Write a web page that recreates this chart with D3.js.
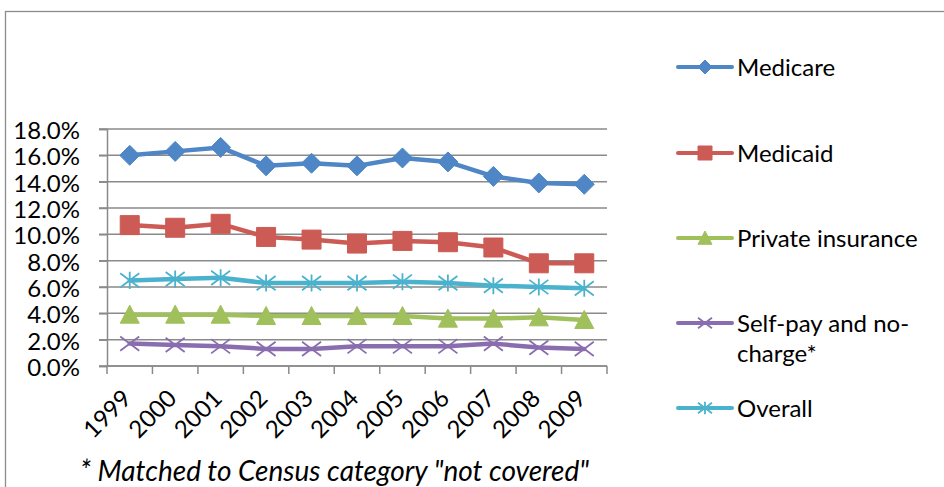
<!DOCTYPE html>
<html><head><meta charset="utf-8">
<script src="https://cdn.jsdelivr.net/npm/d3@7"></script>
<style>body{margin:0;background:#fff;} svg{display:block;font-family:Lato,"Open Sans",sans-serif;}</style>
</head><body><svg id="c" width="944" height="487"></svg>
<script>
const years = ["1999","2000","2001","2002","2003","2004","2005","2006","2007","2008","2009"];
const medicare = [16.0,16.3,16.6,15.2,15.4,15.2,15.8,15.5,14.4,13.9,13.8];
const medicaid = [10.7,10.5,10.8,9.8,9.6,9.3,9.5,9.4,9.0,7.8,7.8];
const privateIns = [3.9,3.9,3.9,3.8,3.8,3.8,3.8,3.6,3.6,3.7,3.5];
const selfPay = [1.7,1.6,1.5,1.3,1.3,1.5,1.5,1.5,1.7,1.4,1.3];
const overall = [6.5,6.6,6.7,6.3,6.3,6.3,6.4,6.3,6.1,6.0,5.9];
const yTicks = [0,2,4,6,8,10,12,14,16,18];
const seriesNames = ["Medicare","Medicaid","Private insurance","Self-pay and no-charge*","Overall"];
const footnote = '* Matched to Census category "not covered"';

const series = [
  {name:seriesNames[0], values:medicare, color:"#4F86C6", marker:"diamond"},
  {name:seriesNames[1], values:medicaid, color:"#CC5B55", marker:"square"},
  {name:seriesNames[2], values:privateIns, color:"#9FC05B", marker:"triangle"},
  {name:seriesNames[3], values:selfPay, color:"#8A6DAE", marker:"x"},
  {name:seriesNames[4], values:overall, color:"#4BB2CE", marker:"star"}
];

const svg = d3.select("#c");
const gridColor = "#8a8a8a";

// chart border
svg.append("rect").attr("x",5.5).attr("y",11.5).attr("width",1000).attr("height",600)
  .attr("fill","none").attr("stroke","#8c8c8c").attr("stroke-width",1.3);

const x = d3.scaleBand().domain(years).range([107,607]).padding(0);
const y = d3.scaleLinear().domain([0,18]).range([366,129]);

// gridlines
svg.append("g").selectAll("line").data(yTicks).join("line")
  .attr("x1",99).attr("x2",607).attr("y1",d=>y(d)).attr("y2",d=>y(d))
  .attr("stroke",gridColor).attr("stroke-width",1.5);

// y axis
const yAxis = svg.append("g").attr("transform","translate(107,0)")
  .call(d3.axisLeft(y).tickValues(yTicks).tickSize(8).tickPadding(19).tickFormat(d=>d.toFixed(1)+"%"));
yAxis.select(".domain").attr("stroke",gridColor).attr("stroke-width",1.5);
yAxis.selectAll(".tick line").attr("stroke",gridColor).attr("stroke-width",1.5);
yAxis.selectAll("text").attr("font-family","Lato").attr("font-size",24).attr("fill","#000").attr("dy","0.4em");

// x axis
const xAxisG = svg.append("g").attr("transform","translate(0,366)");
xAxisG.append("line").attr("x1",107).attr("x2",607).attr("stroke",gridColor).attr("stroke-width",1.5);
const bounds = years.map(d=>x(d)).concat([x.range()[1]]);
xAxisG.selectAll("line.tk").data(bounds).join("line").attr("class","tk")
  .attr("x1",d=>d).attr("x2",d=>d).attr("y1",0).attr("y2",8)
  .attr("stroke",gridColor).attr("stroke-width",1.5);
xAxisG.selectAll("text").data(years).join("text")
  .attr("transform",d=>`translate(${x(d)+x.bandwidth()/2+3},${34}) rotate(-45)`)
  .attr("text-anchor","end").attr("font-size",24).attr("fill","#000").text(d=>d);

function markerPath(type, s){
  const h=s/2;
  if(type==="diamond") return `M0,${-h}L${h},0L0,${h}L${-h},0Z`;
  if(type==="square") return `M${-h},${-h}H${h}V${h}H${-h}Z`;
  if(type==="triangle") return `M0,${-h}L${h},${h*0.9}L${-h},${h*0.9}Z`;
  if(type==="x") return `M${-h},${-h*0.75}L${h},${h*0.75}M${-h},${h*0.75}L${h},${-h*0.75}`;
  if(type==="star") return `M${-h},${-h*0.75}L${h},${h*0.75}M${-h},${h*0.75}L${h},${-h*0.75}M0,${-h*0.9}V${h*0.9}`;
}
function drawMarker(g, type, color, size){
  const filled = !(type==="x"||type==="star");
  g.append("path").attr("d",markerPath(type,size))
    .attr("fill",filled?color:"none").attr("stroke",color)
    .attr("stroke-width",filled?1:1.8);
}

const line = d3.line().x((d,i)=>x(years[i])+x.bandwidth()/2).y(d=>y(d));
series.forEach(s=>{
  svg.append("path").datum(s.values).attr("d",line).attr("fill","none")
    .attr("stroke",s.color).attr("stroke-width",4.5).attr("stroke-linejoin","round").attr("stroke-linecap","round");
  s.values.forEach((v,i)=>{
    const g = svg.append("g").attr("transform",`translate(${x(years[i])+x.bandwidth()/2},${y(v)})`);
    drawMarker(g, s.marker, s.color, s.marker==="square"?19:(s.marker==="diamond"?20:19));
  });
});

// legend
const legY = [67,153,238,323,408];
series.forEach((s,i)=>{
  const g = svg.append("g").attr("transform",`translate(0,${legY[i]})`);
  g.append("line").attr("x1",678).attr("x2",732).attr("stroke",s.color).attr("stroke-width",4).attr("stroke-linecap","round");
  const mg = g.append("g").attr("transform","translate(705,0)");
  drawMarker(mg, s.marker, s.color, 14);
  const t = g.append("text").attr("x",737).attr("y",0).attr("dy","0.38em").attr("font-size",24).attr("fill","#000");
  if(i===3){
    t.append("tspan").attr("x",737).text("Self-pay and no-");
    t.append("tspan").attr("x",737).attr("dy","1.25em").text("charge*");
  } else t.text(s.name);
});

svg.append("text").attr("x",80).attr("y",481).attr("font-size",28).attr("font-style","italic").attr("fill","#000").text(footnote);
</script></body></html>
